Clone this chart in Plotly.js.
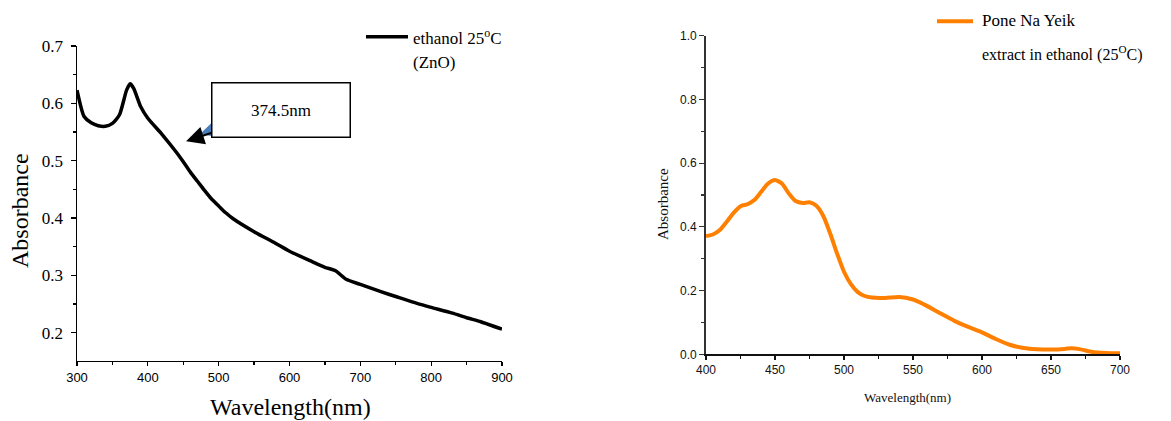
<!DOCTYPE html>
<html>
<head>
<meta charset="utf-8">
<script src="https://cdn.plot.ly/plotly-3.0.1.min.js"></script>
<style>html,body{margin:0;padding:0;background:#fff;}#chart{width:1171px;height:421px;}</style>
</head>
<body>
<div id="chart"></div>
<script>
// Left panel: ZnO in ethanol 25 °C
const znoWavelength = [300,310,320,330,340,350,360,370,375,380,390,400,420,440,450,460,470,480,490,500,510,520,550,580,600,630,650,665,680,700,730,750,780,800,830,850,870,900];
const znoAbsorbance = [0.623,0.577,0.566,0.561,0.560,0.565,0.580,0.623,0.634,0.626,0.594,0.574,0.546,0.515,0.498,0.480,0.464,0.448,0.433,0.421,0.409,0.399,0.376,0.356,0.342,0.325,0.314,0.308,0.293,0.284,0.271,0.263,0.251,0.244,0.234,0.226,0.219,0.206];
const znoName = "ethanol 25\u00B0C (ZnO)";
const peakLabel = "374.5nm";

// Right panel: Pone Na Yeik extract in ethanol 25 °C
const pnyWavelength = [400,405,410,415,420,425,430,435,440,445,450,455,460,465,470,475,480,485,490,495,500,505,510,515,520,530,540,550,555,560,570,580,590,600,610,620,630,640,650,660,665,670,680,690,700];
const pnyAbsorbance = [0.371,0.376,0.390,0.416,0.444,0.465,0.471,0.484,0.510,0.536,0.547,0.536,0.505,0.481,0.475,0.477,0.466,0.434,0.379,0.316,0.259,0.220,0.195,0.183,0.178,0.177,0.180,0.172,0.163,0.152,0.128,0.105,0.086,0.069,0.048,0.030,0.020,0.016,0.015,0.017,0.019,0.017,0.007,0.004,0.003];
const pnyName = "Pone Na Yeik extract in ethanol (25\u00B0C)";

const W = 1171, H = 421;
const px = v => v / W;
const py = v => 1 - v / H;
const SERIF = "'Liberation Serif', 'Times New Roman', Times, serif";
const SANS = "'Liberation Sans', Arial, Helvetica, sans-serif";

const traces = [
  {x: znoWavelength, y: znoAbsorbance, type: "scatter", mode: "lines", name: znoName,
   line: {color: "#000000", width: 3.5, shape: "spline", smoothing: 0.6}, xaxis: "x", yaxis: "y", showlegend: false},
  {x: pnyWavelength, y: pnyAbsorbance, type: "scatter", mode: "lines", name: pnyName,
   line: {color: "#FF8000", width: 4, shape: "spline", smoothing: 0.6}, xaxis: "x2", yaxis: "y2", showlegend: false}
];

const wedge = "M " + px(200) + "," + py(134) + " L " + px(211.5) + "," + py(123) + " L " + px(211.5) + "," + py(136) + " Z";

const layout = {
  width: W, height: H,
  margin: {l: 0, r: 0, t: 0, b: 0},
  paper_bgcolor: "#ffffff", plot_bgcolor: "#ffffff",
  showlegend: false,
  font: {family: SERIF},
  xaxis: {
    domain: [px(77), px(502)], range: [300, 900], anchor: "y",
    showgrid: false, zeroline: false, showline: true, linecolor: "#000", linewidth: 1.5,
    ticks: "outside", ticklen: 4, tickwidth: 1.2, tickcolor: "#000", dtick: 100, tick0: 300,
    minor: {dtick: 50, ticks: "outside", ticklen: 3, tickcolor: "#000", tickwidth: 1.2, showgrid: false},
    tickfont: {family: SANS, size: 13, color: "#000"}
  },
  yaxis: {
    domain: [1 - 360.7 / H, 1 - 46 / H], range: [0.151, 0.7], anchor: "x",
    showgrid: false, zeroline: false, showline: true, linecolor: "#000", linewidth: 1.5,
    ticks: "outside", ticklen: 5, tickwidth: 1.2, tickcolor: "#000", dtick: 0.1, tick0: 0.2,
    minor: {dtick: 0.05, ticks: "outside", ticklen: 3, tickcolor: "#000", tickwidth: 1.2, showgrid: false},
    tickfont: {family: SERIF, size: 17, color: "#000"}, ticklabelstandoff: 4
  },
  xaxis2: {
    domain: [px(706), px(1120)], range: [400, 700], anchor: "y2",
    showgrid: false, zeroline: false, showline: true, linecolor: "#111", linewidth: 1.5,
    ticks: "outside", ticklen: 4, tickwidth: 1.2, tickcolor: "#111", dtick: 50, tick0: 400,
    minor: {dtick: 25, ticks: "outside", ticklen: 3, tickcolor: "#111", tickwidth: 1.2, showgrid: false},
    tickfont: {family: SANS, size: 12, color: "#111"}
  },
  yaxis2: {
    domain: [1 - 354.3 / H, 1 - 35.7 / H], range: [0, 1], anchor: "x2",
    showgrid: false, zeroline: false, showline: true, linecolor: "#333", linewidth: 1.8,
    ticks: "outside", ticklen: 5, tickwidth: 1.2, tickcolor: "#333", dtick: 0.2, tick0: 0, tickformat: ".1f",
    minor: {dtick: 0.1, ticks: "outside", ticklen: 3, tickcolor: "#333", tickwidth: 1.2, showgrid: false},
    tickfont: {family: SANS, size: 12, color: "#111"}
  },
  shapes: [
    {type: "line", xref: "paper", yref: "paper", x0: px(366), x1: px(408), y0: py(36.7), y1: py(36.7),
     line: {color: "#000", width: 3.5}},
    {type: "line", xref: "paper", yref: "paper", x0: px(937), x1: px(973), y0: py(21.3), y1: py(21.3),
     line: {color: "#FF8000", width: 4}},
    {type: "path", xref: "paper", yref: "paper", path: wedge, fillcolor: "#4A7EBB", line: {width: 0}, layer: "above"}
  ],
  annotations: [
    // axis titles
    {xref: "paper", yref: "paper", x: px(19.5), y: py(210.5), text: "Absorbance", textangle: -90, showarrow: false,
     xanchor: "center", yanchor: "middle", font: {family: SERIF, size: 24, color: "#000"}},
    {xref: "paper", yref: "paper", x: px(290), y: py(407), text: "Wavelength(nm)", showarrow: false,
     xanchor: "center", yanchor: "middle", font: {family: SERIF, size: 24, color: "#000"}},
    {xref: "paper", yref: "paper", x: px(663), y: py(204), text: "Absorbance", textangle: -90, showarrow: false,
     xanchor: "center", yanchor: "middle", font: {family: SERIF, size: 15, color: "#111"}},
    {xref: "paper", yref: "paper", x: px(907), y: py(397), text: "Wavelength(nm)", showarrow: false,
     xanchor: "center", yanchor: "middle", font: {family: SERIF, size: 13, color: "#111"}},
    // legend texts
    {xref: "paper", yref: "paper", x: px(411), y: py(37), text: "ethanol 25<sup>o</sup>C", showarrow: false,
     xanchor: "left", yanchor: "middle", font: {family: SERIF, size: 17, color: "#000"}},
    {xref: "paper", yref: "paper", x: px(411), y: py(62), text: "(ZnO)", showarrow: false,
     xanchor: "left", yanchor: "middle", font: {family: SERIF, size: 17, color: "#000"}},
    {xref: "paper", yref: "paper", x: px(980), y: py(21), text: "Pone Na Yeik", showarrow: false,
     xanchor: "left", yanchor: "middle", font: {family: SERIF, size: 17, color: "#000"}},
    {xref: "paper", yref: "paper", x: px(980), y: py(54), text: "extract in ethanol (25<sup>O</sup>C)", showarrow: false,
     xanchor: "left", yanchor: "middle", font: {family: SERIF, size: 16, color: "#000"}},
    // peak callout
    {xref: "x", yref: "y", x: 454, y: 0.534, text: peakLabel, showarrow: true,
     ax: 95, ay: -31, axref: "pixel", ayref: "pixel",
     arrowhead: 2, arrowsize: 1.8, arrowwidth: 2, arrowcolor: "#000",
     bordercolor: "#000", borderwidth: 1.5, borderpad: 0, bgcolor: "#fff",
     width: 137, height: 53, valign: "middle", align: "center",
     font: {family: SERIF, size: 17, color: "#000"}}
  ]
};

Plotly.newPlot("chart", traces, layout, {staticPlot: true, displayModeBar: false});
</script>
</body>
</html>
